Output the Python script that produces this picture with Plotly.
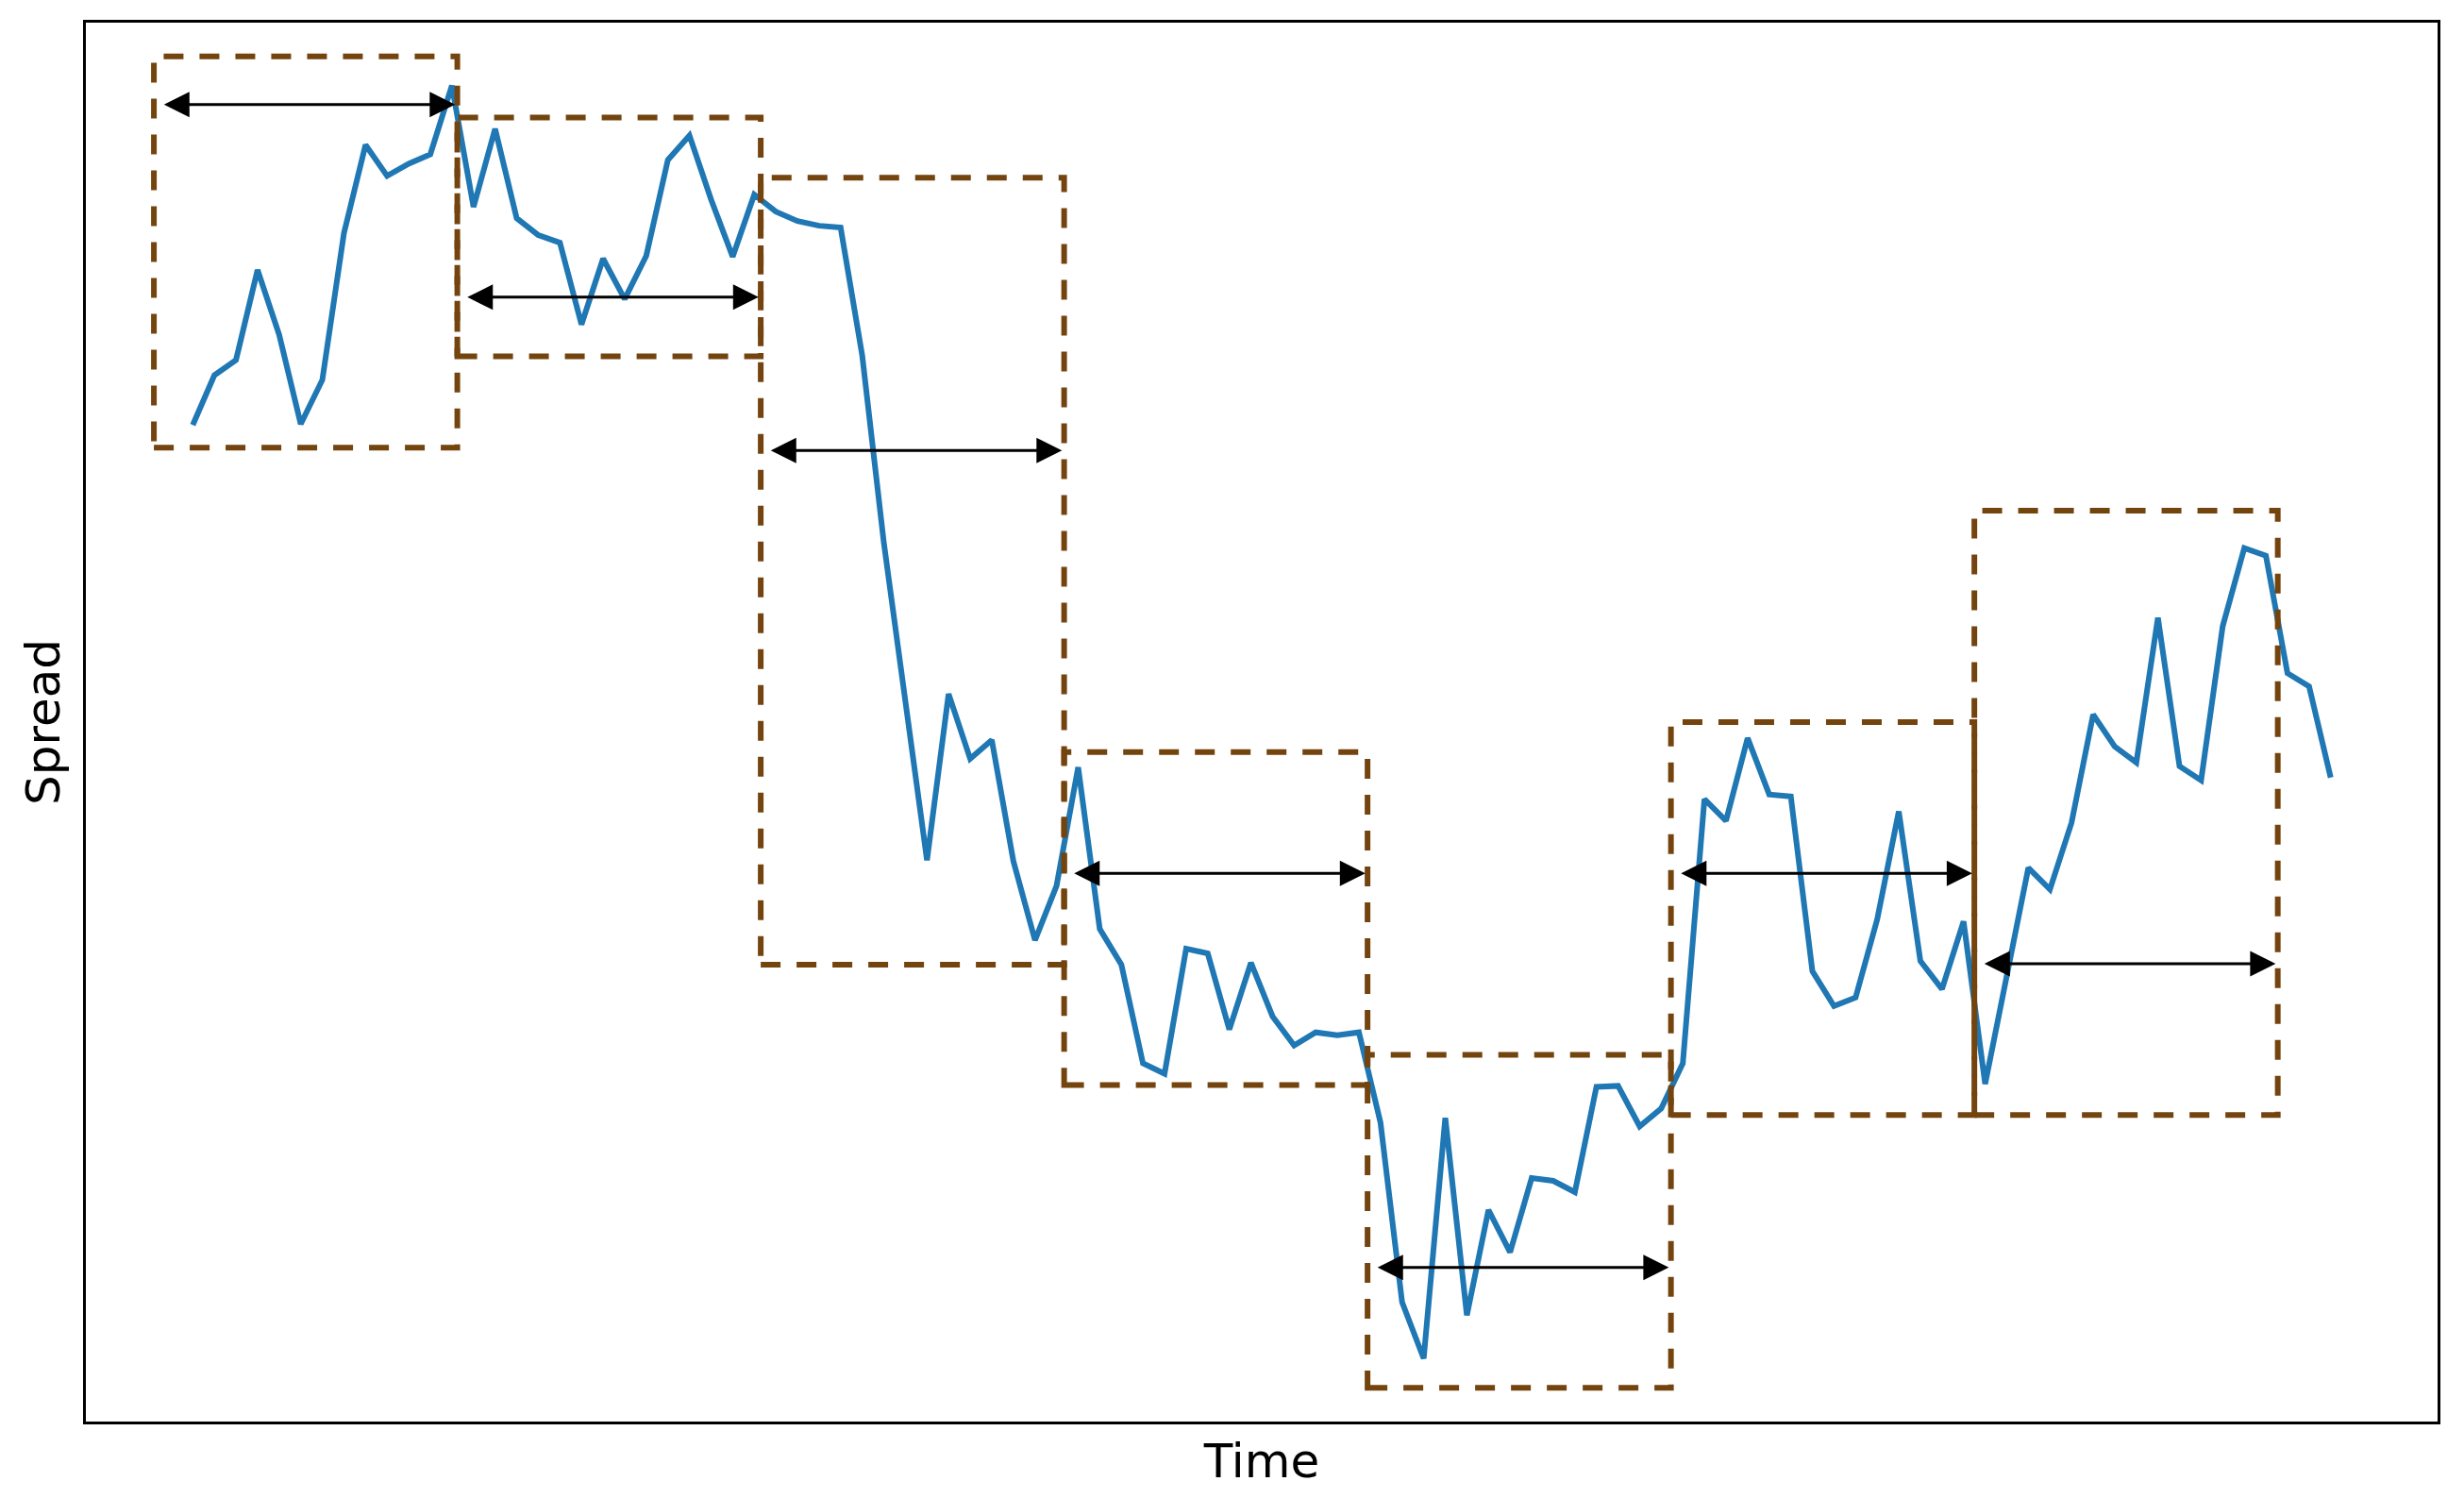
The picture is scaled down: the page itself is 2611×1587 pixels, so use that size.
import plotly.graph_objects as go

# spread series, one value per time step
time = list(range(100))
spread = [
    10.60, 11.13, 11.29, 12.25, 11.56, 10.61, 11.08, 12.64, 13.58, 13.25,
    13.38, 13.48, 14.21, 12.92, 13.75, 12.80, 12.62, 12.54, 11.67, 12.37,
    11.94, 12.40, 13.42, 13.68, 13.00, 12.39, 13.05, 12.87, 12.77, 12.72,
    12.70, 11.34, 9.35, 7.68, 5.97, 7.74, 7.05, 7.25, 5.96, 5.12,
    5.70, 6.96, 5.24, 4.86, 3.81, 3.70, 5.03, 4.98, 4.17, 4.88,
    4.31, 4.00, 4.14, 4.11, 4.14, 3.18, 1.27, 0.67, 3.23, 1.13,
    2.25, 1.80, 2.59, 2.56, 2.44, 3.56, 3.57, 3.14, 3.33, 3.81,
    6.62, 6.39, 7.27, 6.67, 6.65, 4.79, 4.42, 4.51, 5.34, 6.49,
    4.90, 4.60, 5.32, 3.59, 4.74, 5.89, 5.66, 6.37, 7.52, 7.18,
    7.01, 8.55, 6.97, 6.82, 8.46, 9.29, 9.21, 7.96, 7.82, 6.85,
]

# windows: start time, width, low / high of the box, level of the arrow
win_start = [-1.8, 12.25, 26.3, 40.35, 54.4, 68.45, 82.5]
win_width = 14.05
win_low = [10.36, 11.33, 4.86, 3.58, 0.36, 3.26, 3.26]
win_high = [14.52, 13.87, 13.23, 7.12, 3.90, 7.44, 9.69]
arrow_level = [14.01, 11.96, 10.33, 5.83, 1.64, 5.83, 4.87]

BROWN = "#74440f"

fig = go.Figure()
fig.add_trace(go.Scatter(x=time, y=spread, mode="lines",
                         line=dict(color="#1f77b4", width=6),
                         showlegend=False, hoverinfo="skip"))

for s, lo, hi, ya in zip(win_start, win_low, win_high, arrow_level):
    fig.add_shape(type="rect", x0=s, x1=s + win_width, y0=lo, y1=hi,
                  xref="x", yref="y",
                  line=dict(color=BROWN, width=6, dash="21px,17px"))
    fig.add_annotation(x=s + win_width - 0.1, y=ya,
                       ax=s + 0.4, ay=ya,
                       xref="x", yref="y", axref="x", ayref="y",
                       text="", showarrow=True,
                       arrowside="end+start", arrowhead=2, startarrowhead=2,
                       arrowsize=1.8, startarrowsize=1.8, arrowwidth=3,
                       arrowcolor="black", standoff=0, startstandoff=0)

axis_common = dict(showticklabels=False, ticks="", showgrid=False,
                   zeroline=False, showline=True, mirror=True,
                   linecolor="black", linewidth=3)

# the page body adds 8px on the left and top, margins are set to offset it
fig.update_layout(
    width=2611, height=1587,
    margin=dict(l=83, r=36, t=16, b=89),
    paper_bgcolor="white", plot_bgcolor="white",
    font=dict(family="DejaVu Sans", size=42, color="black"),
    xaxis=dict(range=[-4.95, 103.95],
               title=dict(text="Time", standoff=22), **axis_common),
    yaxis=dict(range=[0.0, 14.88],
               title=dict(text="Spread", standoff=9), **axis_common),
)

fig.write_html("out.html")
